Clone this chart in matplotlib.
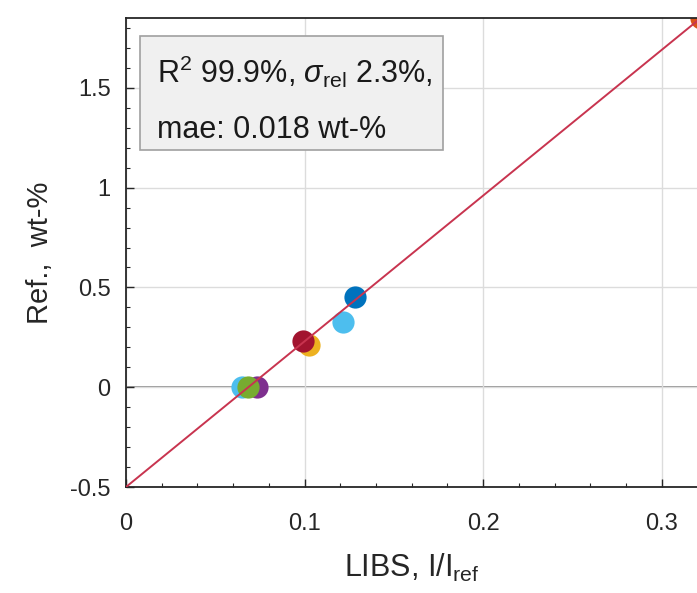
import matplotlib.pyplot as plt
import numpy as np
from matplotlib.patches import Rectangle

plt.rcParams["font.family"] = ["Liberation Sans", "DejaVu Sans"]
plt.rcParams["mathtext.fontset"] = "custom"
plt.rcParams["mathtext.rm"] = "Liberation Sans"
plt.rcParams["mathtext.it"] = "Liberation Sans:italic"

# LIBS intensity ratio vs reference concentration
libs_x = [0.0650, 0.0685, 0.0734, 0.1025, 0.0992, 0.1215, 0.1283, 0.3218]
ref_y = [0.0, 0.0, 0.0, 0.21, 0.23, 0.325, 0.45, 1.85]
colors = ["#4DBEEE", "#77AC30", "#7E2F8E", "#EDB120", "#A2142F",
          "#4DBEEE", "#0072BD", "#D95319"]
draw_order = [0, 2, 1, 3, 4, 5, 6, 7]

fit_slope = 7.30
fit_intercept = -0.5

fig = plt.figure(figsize=(6.97, 5.93), dpi=100)
ax = fig.add_axes([126 / 697, 106 / 593, 571 / 697, 469 / 593])

ax.grid(True, color="#dcdcdc", linewidth=1.0, zorder=0)
ax.axhline(0, color="#8c8c8c", linewidth=1.3, zorder=1)

fx = np.array([0.0, 0.35])
ax.plot(fx, fit_intercept + fit_slope * fx, color="#c8344f", linewidth=1.4, zorder=3)

for i in draw_order:
    ax.plot(libs_x[i], ref_y[i], "o", color=colors[i], markersize=16,
            markeredgewidth=0, zorder=2)

ax.set_xlim(0, 0.3198)
ax.set_ylim(-0.5, 1.85)
ax.set_xticks([0, 0.1, 0.2, 0.3])
ax.set_xticklabels(["0", "0.1", "0.2", "0.3"])
ax.set_yticks([-0.5, 0, 0.5, 1, 1.5])
ax.set_yticklabels(["-0.5", "0", "0.5", "1", "1.5"])
ax.set_xticks(np.arange(0, 0.32, 0.02), minor=True)
ax.set_yticks(np.arange(-0.5, 1.85, 0.1), minor=True)
ax.tick_params(which="both", direction="in", colors="#262626", labelsize=17,
               labelcolor="#262626", right=False)
ax.tick_params(which="major", length=6, width=1.0)
ax.tick_params(which="minor", length=3, width=0.8)
ax.tick_params(axis="x", pad=19)
ax.tick_params(axis="y", pad=11)
for s in ax.spines.values():
    s.set_color("#262626")
    s.set_linewidth(1.3)
ax.spines["right"].set_visible(False)

ax.set_xlabel(r"LIBS, I/I$_{\mathrm{ref}}$", fontsize=22, color="#262626", labelpad=12)
ax.set_ylabel("Ref.,  wt-%", fontsize=21, color="#262626", labelpad=12)

# stats box
ax.add_patch(Rectangle((0.0245, 0.7186), 0.5305, 0.243, transform=ax.transAxes,
                       facecolor="#f0f0f0", edgecolor="#a0a0a0", linewidth=1.2,
                       zorder=5))
ax.text(0.0543, 0.861, "R$^{2}$ 99.9%, $\\mathit{\\sigma}_{\\mathrm{rel}}$ 2.3%,",
        transform=ax.transAxes, fontsize=22, color="#1a1a1a", va="baseline",
        ha="left", zorder=6)
ax.text(0.0543, 0.744, "mae: 0.018 wt-%",
        transform=ax.transAxes, fontsize=22, color="#1a1a1a", va="baseline",
        ha="left", zorder=6)

fig.savefig("out.png", dpi=100)
